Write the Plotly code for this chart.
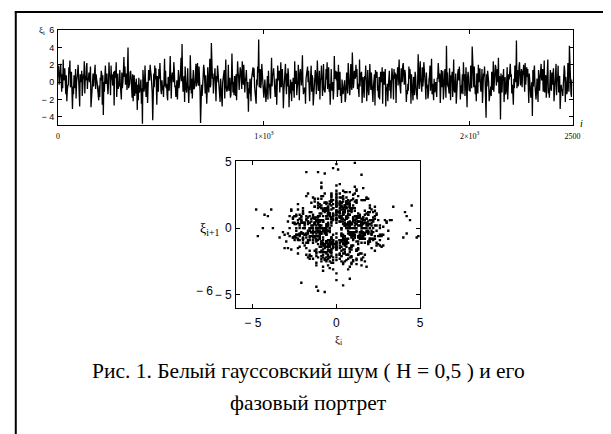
import numpy as np
import plotly.graph_objects as go

# White Gaussian noise samples xi (1000 samples spread over i = 0..2500)
xi = [
 0.6,1.9,-0.3,0.2,1.2,2.1,-0.4,-1.1,0.9,-0.7,2.6,0.2,0.5,1.6,0.0,-1.4,0.8,-2.2,-0.9,-0.4,
 -0.3,1.7,1.0,2.5,-0.6,0.1,1.2,-0.2,-3.1,-0.5,-1.4,0.8,-0.3,-0.7,1.5,-1.9,0.0,0.4,1.1,2.0,
 -1.0,-0.5,-2.8,0.9,0.3,0.0,1.3,-1.6,-0.6,0.9,0.4,2.4,-1.3,0.7,0.2,1.8,2.2,-0.8,0.5,0.2,
 1.1,0.0,0.6,1.8,-2.9,-1.5,-0.3,0.7,1.0,-0.5,0.4,1.2,2.0,-0.8,0.9,0.3,-0.1,-1.2,-1.6,-2.1,
 -0.4,-1.7,0.5,0.2,1.3,0.9,-2.6,0.8,-3.8,0.0,-1.1,0.6,1.9,-0.2,0.7,1.0,-0.4,-1.4,-0.3,2.3,
 0.7,0.8,-1.5,1.9,0.3,0.9,-0.4,0.0,1.2,-2.7,1.3,0.5,0.6,2.3,-1.7,-0.2,1.0,-0.8,-0.2,-0.5,
 1.4,-0.3,-1.6,-2.0,1.1,-0.7,0.0,1.2,2.9,0.6,1.8,-0.3,0.4,1.0,-0.9,1.5,4.0,-0.7,-0.4,-0.2,
 1.1,1.3,0.5,-0.6,-1.8,0.9,-2.2,0.2,0.8,-1.6,0.0,-1.3,0.4,-0.8,-3.2,-0.3,-2.1,0.5,-1.2,-1.0,
 -0.6,0.3,-2.5,-0.7,-4.8,1.4,0.2,-1.1,-0.6,1.9,-0.4,-1.7,-0.9,0.0,-2.4,-0.5,1.4,0.8,0.2,2.0,
 1.2,0.8,-0.5,-1.2,-4.4,0.0,1.0,-0.6,1.9,0.3,1.6,-0.3,-2.6,0.7,-0.2,-1.1,1.5,0.4,2.2,-0.9,
 -1.0,-1.4,0.2,-0.9,-0.4,-1.7,0.8,2.7,-0.5,1.3,-0.7,-0.2,-1.5,-2.1,0.6,0.3,-1.0,1.6,3.0,0.5,
 -1.9,0.4,1.1,0.9,0.0,2.3,1.3,-0.6,-0.4,-1.7,-1.0,0.2,-2.0,-0.8,1.4,-0.7,-0.3,0.5,1.2,2.8,
 0.1,4.4,0.6,-1.1,-0.3,0.7,-2.3,1.8,0.2,-0.9,-1.2,0.0,1.6,-0.6,-2.4,-0.5,-0.9,3.1,-0.8,-1.3,
 0.4,-1.9,0.3,1.4,-0.8,-0.7,-0.2,1.5,2.1,-0.5,1.0,2.2,0.0,-0.4,1.8,0.7,-1.1,-4.7,-0.6,-0.3,
 -1.6,-0.9,0.6,2.0,1.5,0.2,-1.3,0.8,-0.4,-2.5,-0.9,1.7,0.0,-1.2,0.5,2.7,-0.6,-0.2,4.5,1.7,
 0.4,1.0,-1.3,0.3,0.5,1.6,-0.8,-2.2,0.7,0.0,1.9,1.0,0.6,0.3,-1.4,-2.3,0.4,-0.9,-1.2,-2.8,
 0.0,0.7,0.4,1.4,-1.9,0.2,2.6,-0.6,-1.1,-0.9,-0.3,2.0,-1.0,-0.8,0.5,-1.8,-1.5,0.2,3.3,0.6,
 -1.2,0.0,-1.5,0.7,0.4,-1.6,0.9,-2.1,-0.3,2.4,1.1,0.6,-0.9,0.2,1.7,1.3,0.5,-0.8,2.4,1.0,
 -0.3,2.0,-0.8,-1.2,0.2,0.5,1.4,-0.6,-1.9,0.0,-3.4,-0.7,-1.3,0.4,-1.1,-2.2,0.3,0.8,1.0,1.7,
 0.6,1.6,-0.5,-1.2,-0.9,-2.5,0.3,-0.4,1.8,1.1,4.9,-0.6,-0.2,1.5,-0.7,0.0,2.1,1.4,0.5,-0.9,
 -1.8,-1.1,0.3,-0.9,-2.3,-1.5,0.0,0.7,-2.0,1.3,-0.6,-0.2,-1.2,-1.9,0.4,2.8,-0.5,1.0,0.8,1.6,
 0.3,-0.5,-1.7,-1.1,0.4,-2.6,-0.7,1.9,0.2,0.8,1.3,-1.2,0.0,2.3,-0.6,0.9,1.5,-0.4,-3.0,-1.0,
 0.6,0.7,2.1,-0.2,-1.4,1.0,-0.5,1.6,0.8,-2.9,-0.4,-1.3,0.3,-1.7,-2.2,0.0,-1.0,0.5,-0.6,-1.8,
 2.4,-0.2,0.9,1.3,-1.5,-0.6,0.0,2.0,0.3,-2.1,0.9,1.5,0.7,-0.4,1.1,3.1,-0.2,-1.4,-0.7,-1.2,
 -0.6,-2.5,0.4,1.0,0.8,1.8,0.0,1.3,-0.6,-2.2,-0.5,0.3,1.9,-1.1,0.8,0.4,-2.7,-1.6,-0.2,0.9,
 1.4,0.9,-1.4,0.0,2.5,0.6,-1.0,-0.7,1.3,-2.0,0.4,0.3,1.9,0.5,-1.6,-0.2,2.1,-0.8,-1.1,-1.2,
 -0.2,1.5,0.3,2.3,-0.8,0.5,1.7,-1.1,-0.2,-2.6,-0.7,1.5,-0.6,-1.0,0.0,-2.0,-0.9,3.0,0.4,0.5,
 1.3,0.2,1.2,-1.7,-0.4,2.0,-0.9,0.0,1.2,-1.6,-0.7,-2.4,0.3,-0.6,-1.4,-0.9,-1.0,0.2,-2.3,-1.9,
 -0.5,1.1,-0.5,-1.3,2.2,0.6,0.8,-1.5,-0.3,2.1,-0.4,-0.9,3.4,1.6,-0.7,0.0,1.3,1.1,0.4,2.0,
 0.6,1.5,-0.8,-0.2,-0.9,-1.7,2.6,-0.5,1.1,0.2,1.2,-2.4,0.0,0.6,-1.0,-1.8,0.7,0.3,1.9,-0.4,
 -2.2,-0.6,1.4,-0.7,-1.5,-0.3,2.1,0.4,-0.9,1.1,0.0,-1.6,-2.3,-0.5,0.2,0.9,-2.7,1.4,0.8,0.5,
 1.2,-1.0,-0.4,-1.8,0.6,-2.0,-0.7,1.2,0.3,0.0,1.7,-2.5,0.9,1.2,-0.3,0.8,1.5,-2.8,-0.6,-1.0,
 -0.2,-2.2,-0.5,0.7,1.3,-1.0,0.2,-1.9,-0.5,1.6,0.8,0.2,-2.0,1.5,0.4,1.1,0.6,-2.4,0.9,0.3,
 1.7,-0.4,1.1,2.6,0.0,-0.7,-1.3,1.6,0.6,0.0,1.9,2.2,0.8,-0.3,1.4,1.0,-0.5,-2.3,-0.9,-1.4,
 -0.2,-1.0,1.8,0.4,1.5,0.5,-2.5,0.9,-0.3,-1.2,-2.1,0.6,0.2,-1.5,1.2,0.7,-0.8,-1.8,-2.0,0.0,
 3.2,0.6,-0.8,1.3,2.4,0.2,-0.9,-1.1,1.7,-0.5,0.2,2.3,1.6,0.4,-0.5,-2.0,1.1,-0.7,-0.3,-1.9,
 -1.3,0.3,0.7,1.9,-1.0,0.6,2.7,-1.4,-0.2,-0.9,-2.1,0.4,-1.2,-0.8,0.0,-1.6,-1.7,0.5,0.4,2.2,
 1.2,0.0,1.0,-2.4,-0.7,1.4,-0.6,0.2,1.3,-2.0,-0.8,-0.9,1.5,-0.3,-1.8,4.2,-0.4,1.1,-0.6,-0.5,
 -1.3,1.6,-0.5,-2.1,0.8,0.0,1.2,-1.7,-0.3,2.6,-0.9,-1.2,-0.4,1.0,-2.5,-0.6,0.7,1.1,1.5,0.2,
 1.8,0.7,-2.0,-0.4,-1.3,-0.6,0.9,-1.4,2.3,0.2,0.9,-1.6,0.0,1.7,-0.8,-2.9,0.5,1.2,0.5,-1.0,
 -0.3,-1.1,1.9,-0.3,-0.7,4.1,1.2,0.9,-0.6,1.8,-0.2,-1.4,-0.4,-2.2,1.0,0.5,-1.3,2.0,0.0,0.8,
 1.6,-0.4,-1.1,-0.6,1.5,-2.4,-0.2,1.0,0.7,1.8,0.3,-2.1,-4.1,0.9,-0.5,1.3,0.8,0.0,-2.2,-1.4,
 -0.6,-0.5,-1.6,1.2,0.3,-0.9,2.4,-1.1,-0.2,0.6,2.0,1.7,-0.4,0.9,1.5,0.0,2.8,-1.3,0.7,0.4,
 -4.3,1.0,-0.5,-1.2,0.8,0.2,1.5,-2.3,-0.8,0.6,-1.4,-1.1,0.0,1.7,-2.0,-0.4,0.9,0.3,1.6,2.1,
 0.6,0.9,-1.3,-0.3,-1.2,-2.6,0.4,-0.7,1.9,1.0,0.0,4.8,-0.7,1.4,-0.5,-0.2,1.8,2.3,0.9,-0.4,
 1.0,1.5,-0.6,1.3,0.8,2.0,0.0,-1.1,2.2,-0.3,0.8,1.7,0.6,1.5,-0.2,-2.4,1.0,-0.4,-1.2,-1.8,
 -0.7,0.0,-3.9,1.4,-0.5,1.2,1.9,-0.3,-0.8,-2.0,-1.1,0.4,-0.7,-2.3,1.4,-0.6,-1.0,0.5,1.7,2.1,
 0.2,0.9,1.5,-1.1,-0.3,2.5,-1.2,0.6,0.8,-1.8,-0.4,0.0,2.6,-1.3,-0.7,-1.8,-0.5,1.4,-0.6,-1.0,
 1.1,-0.3,0.8,1.6,-2.2,-0.4,-1.0,0.9,2.1,-1.5,0.5,0.2,1.9,-1.2,0.6,0.7,-3.1,-1.5,-0.3,-1.0,
 -0.8,-1.6,0.4,0.7,1.9,1.2,-2.3,0.6,0.0,-1.4,-0.9,2.2,0.5,-1.1,4.2,0.9,-0.4,-1.3,-1.7,0.3,
]
i_max = 2500
top_xticks = [0, 1000, 2000, 2500]
top_xtext = ["0", "1×10<sup>3</sup>", "2×10<sup>3</sup>", "2500"]
top_yticks = [-4, -2, 0, 2, 4, 6]
top_ytext = ["− 4", "− 2", "0", "2", "4", "6"]
ph_ticks = [-5, 0, 5]
ph_text = ["− 5", "0", "5"]
caption1 = "Рис. 1. Белый гауссовский шум ( Н = 0,5 ) и его"
caption2 = "фазовый портрет"

xi = np.array(xi)
idx = np.arange(len(xi)) * i_max / len(xi)

W, H = 611, 434
def px(x): return x / W
def py(y): return 1 - y / H

fig = go.Figure()
fig.add_trace(go.Scatter(x=idx, y=xi, mode="lines",
                         line=dict(color="#000000", width=1.3),
                         xaxis="x", yaxis="y", hoverinfo="skip"))
fig.add_trace(go.Scatter(x=xi[:-1], y=xi[1:], mode="markers",
                         marker=dict(color="#000000", size=2.4, symbol="square", line=dict(width=0)),
                         xaxis="x2", yaxis="y2", hoverinfo="skip"))

axcommon = dict(showline=True, linecolor="#000000", linewidth=1, mirror="ticks",
                ticks="inside", ticklen=4, tickcolor="#000000", tickwidth=1,
                showgrid=False, zeroline=False)

fig.update_layout(
    width=W, height=H, margin=dict(l=0, r=0, t=0, b=0),
    paper_bgcolor="white", plot_bgcolor="white", showlegend=False,
    xaxis=dict(domain=[px(57), px(580)], range=[0, i_max], anchor="y",
               tickmode="array", tickvals=top_xticks, ticktext=top_xtext,
               tickfont=dict(family="Liberation Serif", size=8, color="#000"),
               ticklabelstandoff=3, **axcommon),
    yaxis=dict(domain=[py(120), py(23)], range=[-4.95, 6.05], anchor="x",
               tickmode="array", tickvals=top_yticks, ticktext=top_ytext,
               tickfont=dict(family="Liberation Sans", size=9, color="#000"),
               ticklabelstandoff=1, **axcommon),
    xaxis2=dict(domain=[px(238), px(425)], range=[-6, 5], anchor="y2",
                tickmode="array", tickvals=ph_ticks, ticktext=ph_text,
                tickfont=dict(family="Liberation Sans", size=12, color="#000"),
                ticklabelstandoff=4, **axcommon),
    yaxis2=dict(domain=[py(306), py(157)], range=[-6, 5], anchor="x2",
                tickmode="array", tickvals=ph_ticks, ticktext=ph_text,
                tickfont=dict(family="Liberation Sans", size=12, color="#000"),
                ticklabelstandoff=1, **axcommon),
)

ann = [
    dict(x=px(41), y=py(24), text="ξ<sub>i</sub>", font=dict(family="Liberation Serif", size=9)),
    dict(x=px(589), y=py(118), text="<i>i</i>", font=dict(family="Liberation Serif", size=10)),
    dict(x=px(211), y=py(226), text="ξ<sub>i+1</sub>",
         font=dict(family="Liberation Serif", size=14)),
    dict(x=px(206), y=py(289), text="− 6", font=dict(family="Liberation Sans", size=12)),
    dict(x=px(342), y=py(338), text="ξ<sub>i</sub>", font=dict(family="Liberation Serif", size=11)),
    dict(x=px(312), y=py(370), text=caption1, font=dict(family="Liberation Serif", size=21.5)),
    dict(x=px(312), y=py(402), text=caption2, font=dict(family="Liberation Serif", size=21.5)),
]
for a in ann:
    fig.add_annotation(xref="paper", yref="paper", xanchor="center", yanchor="middle",
                       showarrow=False, font_color="#000", **a)

# outer frame (top and left)
fig.add_shape(type="line", xref="paper", yref="paper", x0=px(13), x1=1, y0=py(5), y1=py(5),
              line=dict(color="#000", width=2))
fig.add_shape(type="line", xref="paper", yref="paper", x0=px(14), x1=px(14), y0=py(5), y1=0,
              line=dict(color="#000", width=2))

fig.write_html("out.html")
